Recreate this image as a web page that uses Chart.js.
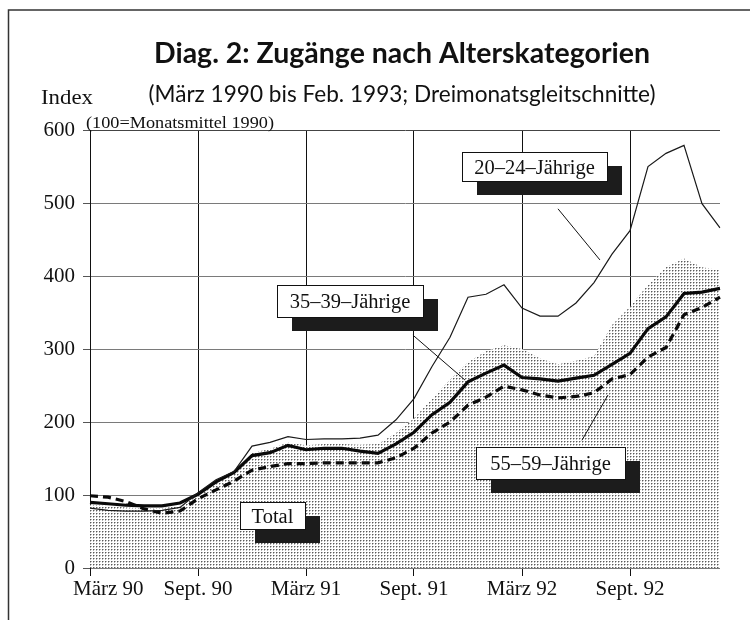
<!DOCTYPE html>
<html>
<head>
<meta charset="utf-8">
<script src="https://cdn.jsdelivr.net/npm/chart.js@4.4.1/dist/chart.umd.min.js"></script>
<style>
  html, body { margin: 0; padding: 0; background: #fff; }
  canvas { display: block; }
</style>
</head>
<body>
<canvas id="c" width="750" height="620"></canvas>
<script>
// ---------- DATA ----------
const months = [
  "März 90","Apr. 90","Mai 90","Juni 90","Juli 90","Aug. 90","Sept. 90","Okt. 90","Nov. 90","Dez. 90","Jan. 91","Feb. 91",
  "März 91","Apr. 91","Mai 91","Juni 91","Juli 91","Aug. 91","Sept. 91","Okt. 91","Nov. 91","Dez. 91","Jan. 92","Feb. 92",
  "März 92","Apr. 92","Mai 92","Juni 92","Juli 92","Aug. 92","Sept. 92","Okt. 92","Nov. 92","Dez. 92","Jan. 93","Feb. 93"
];
const tickLabels = ["März 90","Sept. 90","März 91","Sept. 91","März 92","Sept. 92"];
const yTicks = [0,100,200,300,400,500,600];

const age2024 = [82,79,78,78,79,83,103,121,132,167,172,180,176,177,177,178,182,203,232,276,316,371,375,388,356,345,345,363,391,430,462,550,568,579,499,466];
const age3539 = [90,88,86,85,85,89,101,118,131,154,158,168,162,164,164,160,157,170,186,210,227,255,267,278,261,259,256,260,264,279,294,328,344,376,378,383];
const age5559 = [99,97,91,81,75,78,95,107,119,134,139,143,143,144,144,144,144,151,164,185,200,223,234,249,244,237,233,235,240,259,265,289,302,347,357,371];
const total   = [87,85,83,82,82,85,100,117,130,158,163,172,168,170,170,169,170,185,205,232,258,282,297,305,300,287,279,284,290,333,358,388,412,424,412,408];

const titleText = "Diag. 2: Zugänge nach Alterskategorien";
const subtitleText = "(März 1990 bis Feb. 1993; Dreimonatsgleitschnitte)";
const yTitle = "Index";
const yNote = "(100=Monatsmittel 1990)";

// annotation labels, anchored in data space: [text, x-index left, value top, x-index right, value bottom]
const labelBoxes = [
  ["20–24–Jährige", 20.67, 570, 28.72, 530],
  ["35–39–Jährige", 10.39, 388, 18.5, 344],
  ["55–59–Jährige", 21.44, 166, 29.72, 122],
  ["Total", 8.33, 90.5, 11.94, 53.5]
];
// leader lines in data space: [x1, v1, x2, v2]
const leaders = [
  [26.0, 492, 28.33, 422],
  [17.94, 319, 20.83, 257.5],
  [27.33, 175, 28.78, 237]
];

// ---------- STYLE HELPERS ----------
function makePattern() {
  const p = document.createElement('canvas');
  p.width = 3; p.height = 3;
  const g = p.getContext('2d');
  g.fillStyle = '#ffffff'; g.fillRect(0,0,3,3);
  g.fillStyle = '#5a5a5a'; g.fillRect(0,0,1,1);
  g.fillStyle = '#b4b4b4'; g.fillRect(1,0,1,1); g.fillRect(0,1,1,1);
  return g.createPattern(p, 'repeat');
}

function drawText(ctx, s, x, y, font, align, targetW) {
  ctx.save();
  ctx.font = font;
  const w = ctx.measureText(s).width;
  const sx = targetW ? targetW / w : 1;
  ctx.translate(x, y);
  ctx.scale(sx, 1);
  ctx.textAlign = align;
  ctx.textBaseline = 'alphabetic';
  ctx.fillStyle = '#111';
  ctx.fillText(s, 0, 0);
  ctx.restore();
}

const serif = '"Liberation Serif", "Times New Roman", serif';
const sans = 'Lato, "Open Sans", sans-serif';

const decor = {
  id: 'decor',
  afterDraw(chart) {
    const ctx = chart.ctx;
    const xs = chart.scales.x, ys = chart.scales.y;
    // frame
    ctx.save();
    ctx.strokeStyle = '#333'; ctx.lineWidth = 1.5;
    ctx.beginPath();
    ctx.moveTo(8.5, 620); ctx.lineTo(8.5, 10); ctx.lineTo(750, 10);
    ctx.stroke();
    ctx.restore();

    // titles
    drawText(ctx, titleText, 402, 63, 'bold 29px ' + sans, 'center', 496);
    drawText(ctx, subtitleText, 402, 102, '23px ' + sans, 'center', 507);
    drawText(ctx, yTitle, 41, 104, '22px ' + serif, 'left', 52);
    drawText(ctx, yNote, 86, 128, '16px ' + serif, 'left', 188);

    // x tick labels
    tickLabels.forEach((lab, k) => {
      const idx = months.indexOf(lab);
      const px = xs.getPixelForValue(idx);
      if (k === 0) drawText(ctx, lab, px - 17, 595, '21px ' + serif, 'left');
      else drawText(ctx, lab, px, 595, '21px ' + serif, 'center');
    });

    // leader lines
    ctx.save();
    ctx.strokeStyle = '#111'; ctx.lineWidth = 1;
    leaders.forEach(([a, v1, b, v2]) => {
      ctx.beginPath();
      ctx.moveTo(xs.getPixelForValue(a), ys.getPixelForValue(v1));
      ctx.lineTo(xs.getPixelForValue(b), ys.getPixelForValue(v2));
      ctx.stroke();
    });
    ctx.restore();

    // label boxes with shadow
    labelBoxes.forEach(([t, a, v1, b, v2]) => {
      const x1 = Math.round(xs.getPixelForValue(a)), x2 = Math.round(xs.getPixelForValue(b));
      const y1 = Math.round(ys.getPixelForValue(v1)), y2 = Math.round(ys.getPixelForValue(v2));
      ctx.save();
      ctx.fillStyle = '#1c1c1c';
      ctx.fillRect(x1 + 15, y1 + 14, x2 - x1, y2 - y1);
      ctx.fillStyle = '#fff';
      ctx.fillRect(x1, y1, x2 - x1, y2 - y1);
      ctx.strokeStyle = '#111'; ctx.lineWidth = 1;
      ctx.strokeRect(x1 + 0.5, y1 + 0.5, x2 - x1, y2 - y1);
      ctx.restore();
      drawText(ctx, t, (x1 + x2) / 2, (y1 + y2) / 2 + 7, '20.5px ' + serif, 'center');
    });
  }
};

const keyIdx = tickLabels.map(l => months.indexOf(l));
const gridIdx = keyIdx.filter(i => i > 0);

new Chart(document.getElementById('c').getContext('2d'), {
  type: 'line',
  data: {
    labels: months,
    datasets: [
      { label: '20–24–Jährige', data: age2024, borderColor: '#1a1a1a', borderWidth: 1.2, pointRadius: 0, fill: false, tension: 0 },
      { label: '35–39–Jährige', data: age3539, borderColor: '#0a0a0a', borderWidth: 3.2, pointRadius: 0, fill: false, tension: 0 },
      { label: '55–59–Jährige', data: age5559, borderColor: '#0a0a0a', borderWidth: 3.2, borderDash: [8, 5], pointRadius: 0, fill: false, tension: 0 },
      { label: 'Total', data: total, borderWidth: 0, borderColor: 'rgba(0,0,0,0)', backgroundColor: makePattern(), fill: 'origin', pointRadius: 0, tension: 0 }
    ]
  },
  options: {
    responsive: false,
    animation: false,
    events: [],
    layout: { padding: { left: 0, right: 30, top: 130, bottom: 0 } },
    plugins: { legend: { display: false }, tooltip: { enabled: false }, title: { display: false } },
    scales: {
      x: {
        type: 'category',
        offset: false,
        border: { display: false },
        grid: {
          offset: false,
          lineWidth: 1,
          drawTicks: true,
          tickLength: 8,
          color: (c) => gridIdx.includes(c.index) ? '#111' : 'rgba(0,0,0,0)',
          tickColor: (c) => keyIdx.includes(c.index) ? '#111' : 'rgba(0,0,0,0)'
        },
        ticks: { autoSkip: false, maxRotation: 0, callback: () => '', font: { size: 1 } },
        afterFit: (s) => { s.height = 52; }
      },
      y: {
        min: 0, max: 600,
        afterBuildTicks: (s) => { s.ticks = yTicks.map(v => ({ value: v })); },
        border: { display: true, color: '#111', width: 1 },
        grid: { color: (c) => c.tick && c.tick.value === 600 ? '#444' : '#7a7a7a', lineWidth: 1, tickLength: 7, tickColor: '#555' },
        ticks: { font: { family: serif, size: 21 }, color: '#111', padding: 8 },
        afterFit: (s) => { s.width = 90; }
      }
    }
  },
  plugins: [decor]
});
</script>
</body>
</html>
